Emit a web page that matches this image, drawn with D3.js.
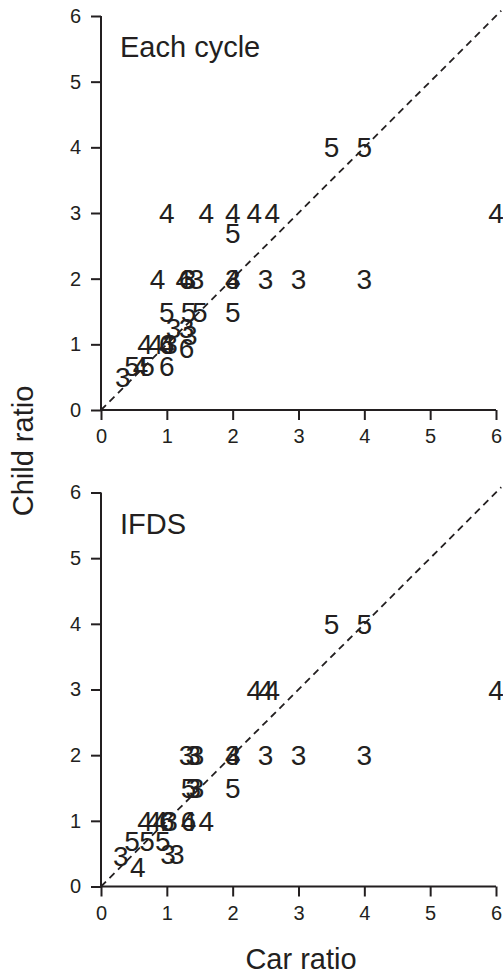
<!DOCTYPE html>
<html>
<head>
<meta charset="utf-8">
<script src="https://cdn.jsdelivr.net/npm/d3@7"></script>
<style>
  body { margin: 0; background: #fff; }
  svg { font-family: "Liberation Sans", Arial, sans-serif; }
  .axis path, .axis line { stroke: #231f20; stroke-width: 2; }
  .axis text { font-family: "Liberation Sans", Arial, sans-serif; font-size: 20px; fill: #231f20; }
</style>
</head>
<body>
<svg width="503" height="975"></svg>
<script>
// panel 1: "Each cycle"
const eachX = [3.5, 4, 1, 1.6, 2, 2.33, 2.6, 6, 2, 0.86, 1.25, 1.3, 1.33, 1.45, 2, 2, 2.5, 3, 4,
  1, 1.33, 1.5, 2, 1.1, 1.3, 1.35, 0.67, 0.83, 1, 1, 1.05, 1.3, 0.47, 0.6, 0.7, 1, 0.33];
const eachY = [4, 4, 3, 3, 3, 3, 3, 3, 2.7, 2, 2, 2, 2, 2, 2, 2, 2, 2, 2,
  1.5, 1.5, 1.5, 1.5, 1.25, 1.25, 1.15, 1, 1, 1, 1, 1, 0.95, 0.67, 0.67, 0.67, 0.67, 0.5];
const eachLabel = ["5", "5", "4", "4", "4", "4", "4", "4", "5", "4", "4", "6", "3", "3", "4", "3", "3", "3", "3",
  "5", "5", "5", "5", "3", "3", "3", "4", "4", "4", "6", "3", "6", "5", "4", "5", "6", "3"];

// panel 2: "IFDS"
const ifdsX = [3.5, 4, 2.33, 2.5, 2.6, 6, 1.3, 1.4, 1.45, 2, 2, 2.5, 3, 4,
  1.33, 1.4, 1.45, 2, 0.67, 0.8, 0.9, 1, 1.05, 1.33, 1.33, 1.6,
  0.47, 0.7, 0.94, 1.02, 1.15, 0.3, 0.56];
const ifdsY = [4, 4, 3, 3, 3, 3, 2, 2, 2, 2, 2, 2, 2, 2,
  1.5, 1.5, 1.5, 1.5, 1, 1, 1, 1, 1, 1, 1, 1,
  0.7, 0.7, 0.7, 0.5, 0.5, 0.47, 0.3];
const ifdsLabel = ["5", "5", "4", "4", "4", "4", "3", "3", "3", "4", "3", "3", "3", "3",
  "5", "3", "3", "5", "4", "4", "4", "6", "3", "6", "4", "4",
  "5", "5", "5", "3", "3", "3", "4"];

const ticks = [0, 1, 2, 3, 4, 5, 6];
const panels = [
  { title: "Each cycle", xs: eachX, ys: eachY, labels: eachLabel, top: 16 },
  { title: "IFDS", xs: ifdsX, ys: ifdsY, labels: ifdsLabel, top: 492.5 }
];

const svg = d3.select("svg");
const ink = "#231f20";
const left = 101, right = 496, size = 394;

const x = d3.scaleLinear().domain([0, 6]).range([left, right]);

panels.forEach(p => {
  const y = d3.scaleLinear().domain([0, 6]).range([p.top + size, p.top]);
  const g = svg.append("g");

  g.append("g")
    .attr("class", "axis")
    .attr("transform", `translate(0,${p.top + size})`)
    .call(d3.axisBottom(x).tickValues(ticks).tickFormat(d3.format("d")).tickSize(10).tickPadding(9))
    .call(a => a.select(".domain").attr("d", `M${left},0H${right}`));

  g.append("g")
    .attr("class", "axis")
    .attr("transform", `translate(${left},0)`)
    .call(d3.axisLeft(y).tickValues(ticks).tickFormat(d3.format("d")).tickSize(10).tickPadding(10))
    .call(a => a.select(".domain").attr("d", `M0,${p.top + size}V${p.top}`));

  // identity line, runs a little past the last tick
  g.append("line")
    .attr("x1", x(0)).attr("y1", y(0))
    .attr("x2", x(6.08)).attr("y2", y(6.08))
    .attr("stroke", ink)
    .attr("stroke-width", 1.8)
    .attr("stroke-dasharray", "7,5");

  g.append("text")
    .attr("x", 120)
    .attr("y", p.top + 41)
    .attr("font-size", 29)
    .attr("fill", ink)
    .text(p.title);

  const pts = p.xs.map((v, i) => ({ x: v, y: p.ys[i], label: p.labels[i] }));
  g.selectAll(".pt")
    .data(pts)
    .enter().append("text")
    .attr("class", "pt")
    .attr("x", d => x(d.x))
    .attr("y", d => y(d.y))
    .attr("dy", "0.36em")
    .attr("text-anchor", "middle")
    .attr("font-size", 28)
    .attr("fill", ink)
    .text(d => d.label);
});

svg.append("text")
  .attr("transform", "translate(33,451) rotate(-90)")
  .attr("text-anchor", "middle")
  .attr("font-size", 29)
  .attr("fill", ink)
  .text("Child ratio");

svg.append("text")
  .attr("x", 301)
  .attr("y", 969)
  .attr("text-anchor", "middle")
  .attr("font-size", 29)
  .attr("fill", ink)
  .text("Car ratio");
</script>
</body>
</html>
